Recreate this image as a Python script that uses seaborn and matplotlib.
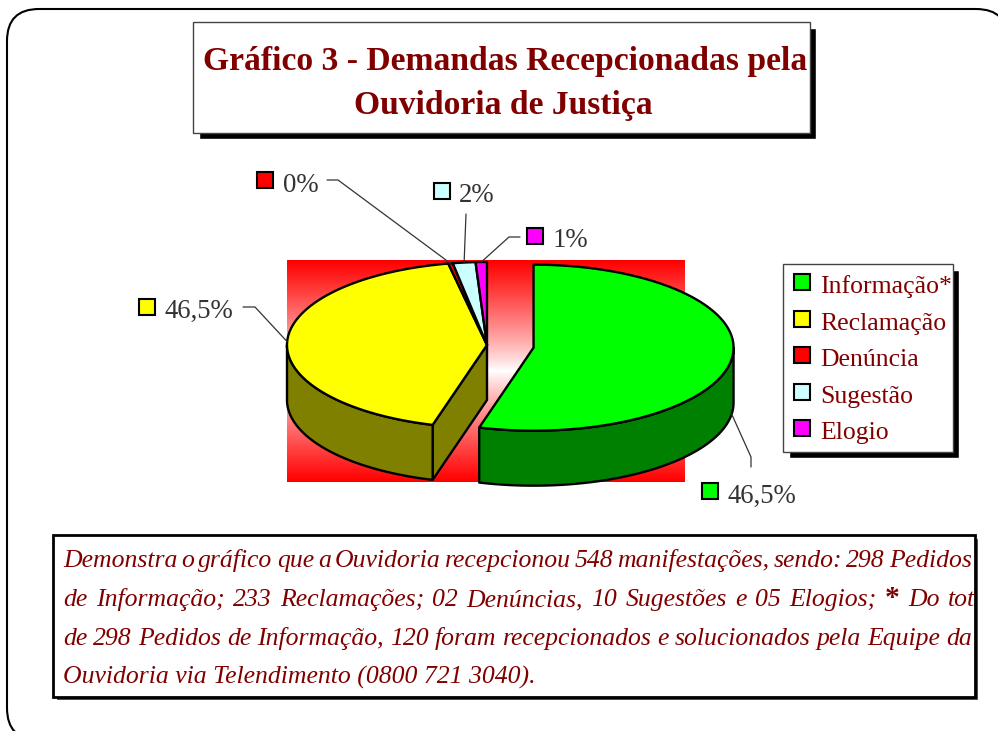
import numpy as np
import matplotlib
matplotlib.use("Agg")
import matplotlib.pyplot as plt
import seaborn as sns
from matplotlib.patches import Polygon, Rectangle, FancyBboxPatch
from matplotlib.colors import LinearSegmentedColormap

# ---- data ----
categories = ["Informação*", "Reclamação", "Denúncia", "Sugestão", "Elogio"]
counts = [298, 233, 2, 10, 5]
pct_labels = ["46,5%", "46,5%", "0%", "2%", "1%"]
top_colors = ["#00FF00", "#FFFF00", "#FF0000", "#CCFFFF", "#FF00FF"]
side_colors = ["#008000", "#808000", "#800000", "#668080", "#800080"]
explode = [0.235, 0, 0, 0, 0]

title_lines = ["Gráfico 3 - Demandas Recepcionadas pela", "Ouvidoria de Justiça"]
note_lines = [
    "Demonstra o gráfico que a Ouvidoria recepcionou 548 manifestações, sendo: 298 Pedidos",
    "de Informação; 233 Reclamações; 02 Denúncias, 10 Sugestões e 05 Elogios; * Do total",
    "de 298 Pedidos de Informação, 120 foram recepcionados e solucionados pela Equipe da",
    "Ouvidoria via Telendimento (0800 721 3040).",
]

sns.set_theme(style="white")
plt.rcParams["font.family"] = ["Liberation Serif", "DejaVu Serif"]

W, H = 998, 731
fig = plt.figure(figsize=(W / 100, H / 100), dpi=100)
ax = fig.add_axes([0, 0, 1, 1])
ax.set_xlim(0, W)
ax.set_ylim(H, 0)
ax.axis("off")
renderer = fig.canvas.get_renderer()


def width_of(t):
    return t.get_window_extent(renderer).width


def fit(t, target):
    for _ in range(2):
        t.set_fontsize(t.get_fontsize() * target / width_of(t))


# outer rounded frame with shadow
ax.add_patch(FancyBboxPatch((12, 14), 1001, 731, boxstyle="round,pad=0,rounding_size=32",
                            fc="black", ec="black", lw=1.5, zorder=0))
ax.add_patch(FancyBboxPatch((7, 9), 1001, 731, boxstyle="round,pad=0,rounding_size=32",
                            fc="white", ec="black", lw=1.5, zorder=0.5))

# title box
ax.add_patch(Rectangle((199, 28), 617, 111, fc="black", zorder=1))
ax.add_patch(Rectangle((193, 22), 617, 111, fc="white", ec="#444444", lw=1, zorder=1.1))
t1 = ax.text(505, 70, title_lines[0], ha="center", va="baseline", fontsize=22,
             fontweight="bold", color="#800000", zorder=2)
fit(t1, 604)
ax.text(503, 114, title_lines[1], ha="center", va="baseline", fontsize=t1.get_fontsize(),
        fontweight="bold", color="#800000", zorder=2)

# gradient background of the plot area
grad = np.abs(np.linspace(-1, 1, 256))[:, None] ** 0.85
bg_cmap = LinearSegmentedColormap.from_list("bg", ["white", "#FF0000"])
ax.imshow(grad, extent=(287, 685, 482, 260), cmap=bg_cmap, aspect="auto",
          interpolation="bilinear", zorder=1)

# ---- 3D pie ----
CX, CY, RX, RY, DEPTH = 487, 345, 200, 83, 55
n = len(counts)
frac = np.array(counts) / sum(counts)
edges = np.concatenate([[0], np.cumsum(frac)]) * 2 * np.pi


def rim(phi, cx, cy, z=0.0):
    return cx + RX * np.sin(phi), cy - RY * np.cos(phi) + z


style = dict(ec="black", lw=1.7, joinstyle="round", closed=True)
centers = []
for i, (a0, a1) in enumerate(zip(edges[:-1], edges[1:])):
    mid = (a0 + a1) / 2
    cx = CX + explode[i] * RX * np.sin(mid)
    cy = CY - explode[i] * RY * np.cos(mid)
    centers.append((cx, cy))

    # radial cut faces: only where a gap opens and the face turns toward the viewer
    faces = [(a0, np.sin(a0) < 0, (i - 1) % n), (a1, np.sin(a1) > 0, (i + 1) % n)]
    for a, front, nb in faces:
        if front and (explode[i] > 0 or explode[nb] > 0):
            ex, ey = rim(a, cx, cy)
            quad = [(cx, cy), (ex, ey), (ex, ey + DEPTH), (cx, cy + DEPTH)]
            ax.add_patch(Polygon(quad, fc=side_colors[i], zorder=2, **style))

    # front wall
    s, e = max(a0, np.pi / 2), min(a1, 3 * np.pi / 2)
    if e > s:
        ph = np.linspace(s, e, 120)
        xt, yt = rim(ph, cx, cy)
        xb, yb = rim(ph[::-1], cx, cy, DEPTH)
        wall = list(zip(xt, yt)) + list(zip(xb, yb))
        ax.add_patch(Polygon(wall, fc=side_colors[i], zorder=3, **style))

    # top face
    ph = np.linspace(a0, a1, max(4, int(120 * (a1 - a0))))
    xt, yt = rim(ph, cx, cy)
    top = [(cx, cy)] + list(zip(xt, yt))
    ax.add_patch(Polygon(top, fc=top_colors[i], zorder=4, **style))

# ---- data labels with leaders ----
label_square = [(710, 491), (147, 307), (265, 180), (442, 191), (535, 236)]
label_text = [(728, 503), (165, 318), (283, 192), (459, 202), (553, 247)]
leader_start = [[(751, 467), (751, 457)], [(243, 307), (255, 307)], [(327, 180), (338, 180)],
                [(466, 214)], [(520, 237), (509, 237)]]

lab_size = None
for i, lab in enumerate(pct_labels):
    a0, a1 = edges[i], edges[i + 1]
    mid = (a0 + a1) / 2
    cx, cy = centers[i]
    z = DEPTH if np.cos(mid) < 0 else 0
    px, py = rim(mid, cx, cy, z)
    pts = leader_start[i] + [(px, py)]
    ax.plot([p[0] for p in pts], [p[1] for p in pts], color="#333333", lw=0.9, zorder=5)
    sx, sy = label_square[i]
    ax.add_patch(Rectangle((sx - 8, sy - 8), 16, 16, fc=top_colors[i], ec="black", lw=1.5,
                           zorder=6))
    t = ax.text(label_text[i][0], label_text[i][1], lab, ha="left", va="baseline",
                fontsize=19 if lab_size is None else lab_size, color="#333333", zorder=6)
    if lab_size is None:
        fit(t, 69)
        lab_size = t.get_fontsize()

# ---- legend ----
ax.add_patch(Rectangle((789, 270), 170, 188, fc="black", zorder=5))
ax.add_patch(Rectangle((783, 264), 170, 188, fc="white", ec="#444444", lw=1, zorder=5.1))
probe = ax.text(0, 0, categories[1], fontsize=19)
fit(probe, 126)
leg_size = probe.get_fontsize()
probe.remove()
for i, cat in enumerate(categories):
    yc = 282 + i * 36.6
    ax.add_patch(Rectangle((794, yc - 8), 16, 16, fc=top_colors[i], ec="black", lw=1.5,
                           zorder=6))
    ax.text(820, yc + 11, cat, ha="left", va="baseline", fontsize=leg_size,
            color="#800000", zorder=6)

# ---- note box ----
ax.add_patch(Rectangle((56, 538), 922, 162, fc="#222222", zorder=5))
note_box = Rectangle((53, 535), 922, 162, fc="white", ec="black", lw=2, zorder=5.1)
ax.add_patch(note_box)

last = ax.text(63, 684, note_lines[3], ha="left", va="baseline", fontsize=18,
               style="italic", color="#800000", zorder=6)
fit(last, 472)
note_size = last.get_fontsize()

baselines = [567, 606, 645]
line_end = [972, 995, 972]
for line, yb, x1 in zip(note_lines[:3], baselines, line_end):
    words = line.split(" ")
    ts = []
    for w in words:
        if w == "*":
            t = ax.text(0, yb, w, ha="left", va="baseline", fontsize=note_size * 1.15,
                        fontweight="bold", color="#800000", zorder=6)
        else:
            t = ax.text(0, yb, w, ha="left", va="baseline", fontsize=note_size,
                        style="italic", color="#800000", zorder=6)
        t.set_clip_path(note_box)
        t.set_clip_on(True)
        ts.append(t)
    widths = [width_of(t) for t in ts]
    gap = (x1 - 63 - sum(widths)) / (len(ts) - 1)
    x = 63
    for t, w in zip(ts, widths):
        t.set_x(x)
        x += w + gap

ax.set_xlim(0, W)
ax.set_ylim(H, 0)
fig.savefig("out.png", dpi=100)
